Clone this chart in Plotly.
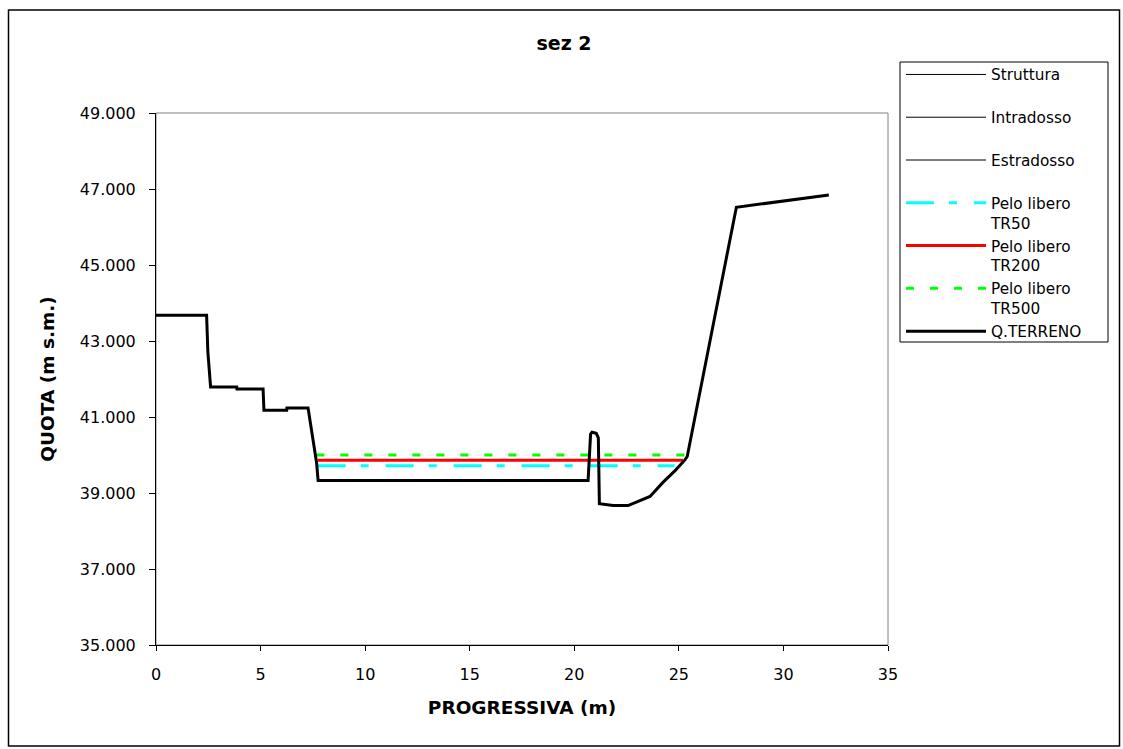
import plotly.graph_objects as go

# ---- data ----
terrain_x = [0, 2.42, 2.48, 2.61, 3.86, 3.87, 5.12, 5.16, 6.25, 6.26, 7.27, 7.68, 7.75,
             20.66, 20.78, 20.85, 21.05, 21.15, 21.2, 21.86, 22.57, 23.14, 23.62, 24.24,
             24.82, 25.29, 25.4, 27.75, 32.17]
terrain_y = [43.68, 43.68, 42.71, 41.79, 41.79, 41.74, 41.74, 41.18, 41.18, 41.24, 41.24, 39.79, 39.33,
             39.33, 40.55, 40.6, 40.57, 40.45, 38.72, 38.67, 38.67, 38.8, 38.91, 39.28,
             39.59, 39.87, 39.96, 46.52, 46.84]

tr50_x = [7.73, 24.8]
tr50_y = [39.72, 39.72]
tr200_x = [7.73, 25.2]
tr200_y = [39.86, 39.86]
tr500_x = [7.67, 25.57]
tr500_y = [40.0, 40.0]

series_names = ["Struttura", "Intradosso", "Estradosso",
                "Pelo libero<br>TR50", "Pelo libero<br>TR200", "Pelo libero<br>TR500",
                "Q.TERRENO"]

x_ticks = [0, 5, 10, 15, 20, 25, 30, 35]
y_ticks = [35, 37, 39, 41, 43, 45, 47, 49]

FONT = "DejaVu Sans, Liberation Sans, Arial, sans-serif"

# ---- layout geometry (pixels) ----
W, H = 1123, 749
PL, PR, PT, PB = 156, 888, 113, 645

def px_to_paper_x(px):
    return (px - PL) / (PR - PL)

def px_to_paper_y(py):
    return (PB - py) / (PB - PT)

fig = go.Figure()

# legend-only structure series (no data in this section)
for name in series_names[:3]:
    fig.add_trace(go.Scatter(x=[None], y=[None], mode="lines", name=name + "<br> ",
                             line=dict(color="black", width=1)))

fig.add_trace(go.Scatter(x=tr50_x, y=tr50_y, mode="lines", name=series_names[3],
                         line=dict(color="#00FFFF", width=3, dash="28px,15px,8px,17px")))
fig.add_trace(go.Scatter(x=tr200_x, y=tr200_y, mode="lines", name=series_names[4],
                         line=dict(color="#FF0000", width=3)))
fig.add_trace(go.Scatter(x=tr500_x, y=tr500_y, mode="lines", name=series_names[5],
                         line=dict(color="#00FF00", width=3, dash="8px,16px")))
fig.add_trace(go.Scatter(x=terrain_x, y=terrain_y, mode="lines", name=series_names[6],
                         line=dict(color="black", width=3)))

shapes = [
    # plot area frame (grey)
    dict(type="rect", xref="paper", yref="paper", x0=0, x1=1, y0=0, y1=1,
         line=dict(color="#808080", width=1), layer="below"),
    # outer chart frame
    dict(type="rect", xref="paper", yref="paper",
         x0=px_to_paper_x(8.5), x1=px_to_paper_x(1119.5),
         y0=px_to_paper_y(746), y1=px_to_paper_y(10),
         line=dict(color="black", width=1.5), layer="below"),
    # legend box
    dict(type="rect", xref="paper", yref="paper",
         x0=px_to_paper_x(900), x1=px_to_paper_x(1108),
         y0=px_to_paper_y(342), y1=px_to_paper_y(62),
         line=dict(color="black", width=1), fillcolor="white", layer="below"),
]

fig.update_layout(
    width=W, height=H,
    margin=dict(l=PL, r=W - PR, t=PT, b=H - PB, autoexpand=False),
    paper_bgcolor="white", plot_bgcolor="white",
    font=dict(family=FONT, color="black", size=16),
    title=dict(text="<b>sez 2</b>", xref="container", x=564 / W, xanchor="center",
               yref="container", y=1 - 43 / H, yanchor="middle",
               font=dict(family=FONT, size=19, color="black")),
    showlegend=True,
    legend=dict(x=px_to_paper_x(901), y=px_to_paper_y(58), xanchor="left", yanchor="top",
                xref="paper", yref="paper",
                bgcolor="rgba(0,0,0,0)", borderwidth=0,
                font=dict(family=FONT, size=15.3, color="black"),
                valign="top", itemwidth=80, traceorder="normal"),
    shapes=shapes,
    xaxis=dict(range=[0, 35], tickvals=x_ticks, ticks="outside", ticklen=5, tickcolor="black",
               showline=True, linecolor="black", linewidth=1, showgrid=False, zeroline=False,
               tickfont=dict(family=FONT, size=16, color="black"), ticklabelstandoff=10,
               title=dict(text="<b>PROGRESSIVA (m)</b>", standoff=17,
                          font=dict(family=FONT, size=18.5, color="black"))),
    yaxis=dict(range=[35, 49], tickvals=y_ticks, tickformat=".3f", ticks="outside", ticklen=6,
               tickcolor="black", showline=True, linecolor="black", linewidth=1,
               showgrid=False, zeroline=False,
               tickfont=dict(family=FONT, size=16, color="black"), ticklabelstandoff=10,
               title=dict(text="<b>QUOTA (m s.m.)</b>", standoff=20,
                          font=dict(family=FONT, size=18.5, color="black"))),
)

fig.write_html("out.html", config={"displayModeBar": False},
               post_script="document.body.style.margin='0px';")
